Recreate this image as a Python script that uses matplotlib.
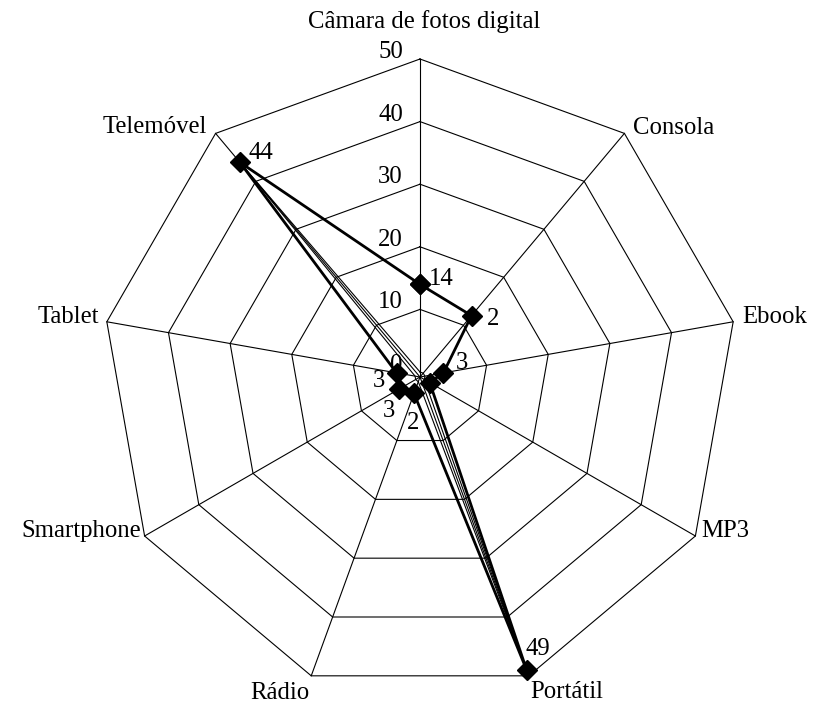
import numpy as np
import matplotlib
matplotlib.use("Agg")
import matplotlib.pyplot as plt

plt.rcParams['font.family'] = ['Liberation Serif', 'DejaVu Serif']

# ---- data ----
categories = ["Câmara de fotos digital", "Consola", "Ebook", "MP3", "Portátil",
              "Rádio", "Smartphone", "Tablet", "Telemóvel"]
values_main = [14, 12, 3, 1, 49, 2, 3, 3, 44]
values_peak = [0, 0, 0, 0, 49, 0, 0, 0, 44]
point_labels = ["14", "2", "3", "", "49", "2", "3", "3", "44"]
ring_values = [10, 20, 30, 40, 50]
tick_values = [0, 10, 20, 30, 40, 50]
r_min, r_max = -0.8, 50

# ---- layout / style ----
W, H = 816, 708
cx, cy, R = 420, 377, 318
FS = 17.8

fig = plt.figure(figsize=(W / 100, H / 100), dpi=100)
ax = fig.add_axes([(cx - R) / W, (H - cy - R) / H, 2 * R / W, 2 * R / H],
                  projection='polar')
ax.set_theta_zero_location('N')
ax.set_theta_direction(-1)
ax.set_ylim(r_min, r_max)
ax.grid(False)
ax.set_xticks([])
ax.set_yticks([])
ax.spines['polar'].set_visible(False)
ax.patch.set_alpha(0)

n = len(categories)
theta = np.linspace(0, 2 * np.pi, n, endpoint=False)
theta_c = np.append(theta, theta[0])

# grid rings (nonagons) and spokes
for v in ring_values:
    ax.plot(theta_c, [v] * (n + 1), color='black', lw=0.8, clip_on=False, zorder=1)
for t in theta:
    ax.plot([t, t], [r_min, r_max], color='black', lw=0.8, clip_on=False, zorder=1)

# radial tick labels
for v in tick_values:
    ax.annotate(str(v), xy=(0, v), xytext=(-17, 1), textcoords='offset pixels',
                ha='right', va='baseline', fontsize=FS, zorder=2)

# category labels
cat_off = [(4, 31, 'center'), (9, -1, 'left'), (9, -1, 'left'), (6, -1, 'left'),
           (2, -22, 'left'), (-2, -23, 'right'), (-4, -1, 'right'),
           (-8, -1, 'right'), (-9, 0, 'right')]
for t, c, (dx, dy, ha) in zip(theta, categories, cat_off):
    ax.annotate(c, xy=(t, r_max), xytext=(dx, dy), textcoords='offset pixels',
                ha=ha, va='baseline', fontsize=FS, annotation_clip=False)

# series
vp = values_peak + [values_peak[0]]
ax.plot(theta_c, vp, color='black', lw=0.8, clip_on=False, zorder=3)
vm = values_main + [values_main[0]]
ax.plot(theta_c, vm, color='black', lw=2.0, marker='D', markersize=10.5,
        markerfacecolor='black', markeredgecolor='black', clip_on=False, zorder=5)

# data labels
lab_off = [(9, -1), (15, -9), (12, 4), (0, 0), (-1, 15), (-7, -36),
           (-17, -28), (-24, -14), (9, 3)]
for t, v, lab, (dx, dy) in zip(theta, values_main, point_labels, lab_off):
    if lab:
        ax.annotate(lab, xy=(t, v), xytext=(dx, dy), textcoords='offset pixels',
                    ha='left', va='baseline', fontsize=FS, zorder=2,
                    annotation_clip=False)

fig.savefig("out.png", dpi=100)
